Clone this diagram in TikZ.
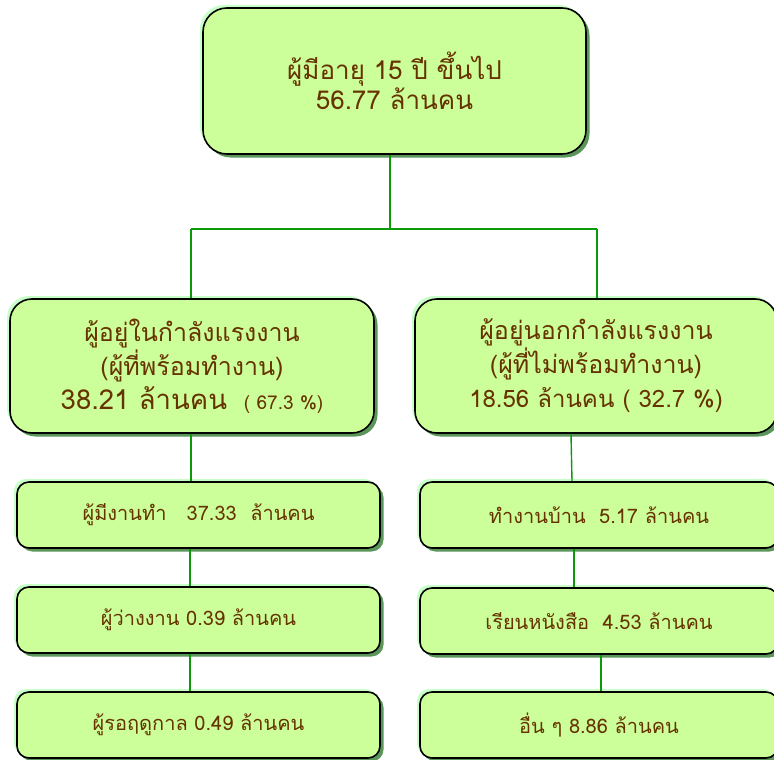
\documentclass[tikz,border=0pt]{standalone}
\usepackage{fontspec}
\setmainfont{Loma}[Script=Thai]
\usetikzlibrary{shadows,calc}
\definecolor{boxfill}{HTML}{CCFF99}
\definecolor{shadowgreen}{HTML}{5A955A}
\definecolor{glowgreen}{HTML}{C8FFC8}
\definecolor{linegreen}{HTML}{0A9A0A}
\definecolor{txtbrown}{HTML}{663300}
\begin{document}
\begin{tikzpicture}[x=1pt,y=-1pt,
  boxbase/.style={rectangle, draw=black, line width=1.6pt, fill=boxfill, text=txtbrown,
    align=center, inner sep=0pt,
    general shadow={shadow xshift=-3pt, shadow yshift=3pt, fill=glowgreen},
    general shadow={shadow xshift=3.5pt, shadow yshift=-3.5pt, fill=shadowgreen}},
  bigbox/.style={boxbase, rounded corners=22pt, minimum height=134pt, font=\fontsize{25}{34}\selectfont},
  topbox/.style={boxbase, rounded corners=24pt, minimum width=383pt, minimum height=146pt, font=\fontsize{26}{30}\selectfont},
  smallbox/.style={boxbase, rounded corners=12pt, minimum height=66pt, font=\fontsize{20}{22}\selectfont},
  link/.style={draw=linegreen, line width=1.4pt}]
\useasboundingbox (0,0) rectangle (774,760);

\node[topbox] (top) at (394.5,81) {ผู้มีอายุ 15 ปี ขึ้นไป\\56.77 ล้านคน};

\node[bigbox, minimum width=364pt] (lm) at (192,366)
  {ผู้อยู่ในกำลังแรงงาน\\(ผู้ที่พร้อมทำงาน)\\{\fontsize{27.5}{34}\selectfont 38.21 ล้านคน}\ \ {\fontsize{19}{34}\selectfont ( 67.3 \%)}};
\node[bigbox, minimum width=362pt] (rm) at (596,366)
  {ผู้อยู่นอกกำลังแรงงาน\\(ผู้ที่ไม่พร้อมทำงาน)\\{\fontsize{24}{34}\selectfont 18.56 ล้านคน ( 32.7 \%)}};

\node[smallbox, minimum width=363pt] (l1) at (198.5,515) {ผู้มีงานทำ\ \ \ 37.33\ \ ล้านคน};
\node[smallbox, minimum width=363pt] (l2) at (198.5,620) {ผู้ว่างงาน 0.39 ล้านคน};
\node[smallbox, minimum width=363pt] (l3) at (198.5,725) {ผู้รอฤดูกาล 0.49 ล้านคน};

\node[smallbox, minimum width=358pt] (r1) at (599,515) {ทำงานบ้าน\ \ 5.17 ล้านคน};
\node[smallbox, minimum width=358pt] (r2) at (599,621) {เรียนหนังสือ\ \ 4.53 ล้านคน};
\node[smallbox, minimum width=358pt] (r3) at (599,725) {อื่น ๆ 8.86 ล้านคน};

\coordinate (j) at (390,229);
\coordinate (jl) at (191,229);
\coordinate (jr) at (597,229);

\draw[link] (top.south -| j) -- (j);
\draw[link] (jl) -- (jr);
\draw[link] (jl) -- (jl |- lm.north);
\draw[link] (jr) -- (jr |- rm.north);
\draw[link] (lm.south -| jl) -- (l1.north -| jl);
\draw[link] ($(l1.south -| jl)+(-1,0)$) -- ($(l2.north -| jl)+(-1,0)$);
\draw[link] ($(l2.south -| jl)+(-1,0)$) -- ($(l3.north -| jl)+(-1,0)$);
\draw[link] ($(rm.south)+(-25,0)$) -- ($(r1.north)+(-27,0)$);
\draw[link] ($(r1.south)+(-25,0)$) -- ($(r2.north)+(-25,0)$);
\draw[link] ($(r2.south)+(2,0)$) -- ($(r3.north)+(2,0)$);
\end{tikzpicture}
\end{document}
